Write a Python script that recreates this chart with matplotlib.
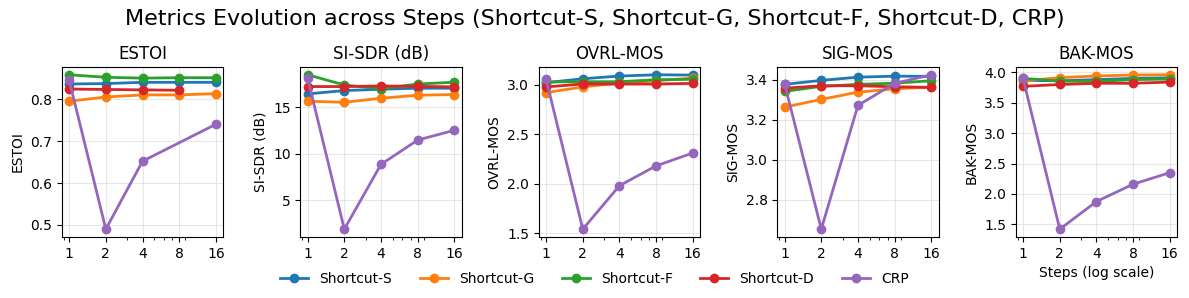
import numpy as np
import matplotlib
matplotlib.use("Agg")
import matplotlib.pyplot as plt

steps = [1, 2, 4, 8, 16]
methods = ["Shortcut-S", "Shortcut-G", "Shortcut-F", "Shortcut-D", "CRP"]
colors = ["#1f77b4", "#ff7f0e", "#2ca02c", "#d62728", "#9467bd"]
nan = np.nan

# valores por métrica (filas = métodos, columnas = pasos)
estoi = [
    [0.836, 0.837, 0.840, 0.840, 0.840],
    [0.795, 0.805, 0.810, 0.810, 0.813],
    [0.858, 0.852, 0.850, 0.851, 0.851],
    [0.824, 0.823, 0.822, 0.821, nan],
    [0.845, 0.490, 0.652, nan, 0.740],
]
sisdr = [
    [16.44, 16.80, 16.94, 17.05, 17.05],
    [15.65, 15.54, 15.97, 16.30, 16.37],
    [18.50, 17.40, 17.00, 17.50, 17.70],
    [17.23, 17.23, 17.30, 17.25, 17.20],
    [18.13, 1.87, 8.85, 11.47, 12.52],
]
ovrl = [
    [3.02, 3.06, 3.087, 3.10, 3.097],
    [2.92, 2.977, 3.017, 3.04, 3.067],
    [3.027, 3.03, 3.03, 3.05, 3.054],
    [2.977, 3.007, 3.007, 3.007, 3.013],
    [3.054, 1.54, 1.98, 2.18, 2.31],
]
sig = [
    [3.377, 3.397, 3.413, 3.418, 3.417],
    [3.263, 3.302, 3.338, 3.355, 3.363],
    [3.342, 3.367, 3.377, 3.383, 3.395],
    [3.358, 3.37, 3.37, 3.365, 3.362],
    [3.38, 2.653, 3.272, 3.382, 3.425],
]
bak = [
    [3.87, 3.86, 3.88, 3.90, 3.91],
    [3.86, 3.912, 3.94, 3.956, 3.96],
    [3.90, 3.857, 3.85, 3.88, 3.89],
    [3.77, 3.80, 3.82, 3.82, 3.84],
    [3.90, 1.42, 1.875, 2.16, 2.35],
]

metricas = [("ESTOI", estoi), ("SI-SDR (dB)", sisdr), ("OVRL-MOS", ovrl),
            ("SIG-MOS", sig), ("BAK-MOS", bak)]

fig, axes = plt.subplots(1, 5, figsize=(11.89, 2.98), dpi=100)
for ax, (nombre, datos) in zip(axes, metricas):
    for m, c, vals in zip(methods, colors, datos):
        x = np.array(steps, dtype=float)
        y = np.array(vals, dtype=float)
        ok = ~np.isnan(y)
        ax.plot(x[ok], y[ok], marker='o', color=c, lw=2, ms=6, label=m)
    ax.set_xscale('log')
    ax.set_xticks(steps)
    ax.set_xticklabels([str(s) for s in steps])
    ax.set_title(nombre)
    ax.set_ylabel(nombre)
    ax.grid(True, alpha=0.3)
axes[-1].set_xlabel('Steps (log scale)')

fig.suptitle('Metrics Evolution across Steps (Shortcut-S, Shortcut-G, Shortcut-F, Shortcut-D, CRP)',
             fontsize=16, y=0.97)
handles, labels = axes[0].get_legend_handles_labels()
fig.legend(handles, labels, loc='center', ncol=5, frameon=False,
           bbox_to_anchor=(0.5, 0.065))
plt.subplots_adjust(left=0.052, right=0.99, top=0.775, bottom=0.205, wspace=0.478)
plt.savefig('out.png')
